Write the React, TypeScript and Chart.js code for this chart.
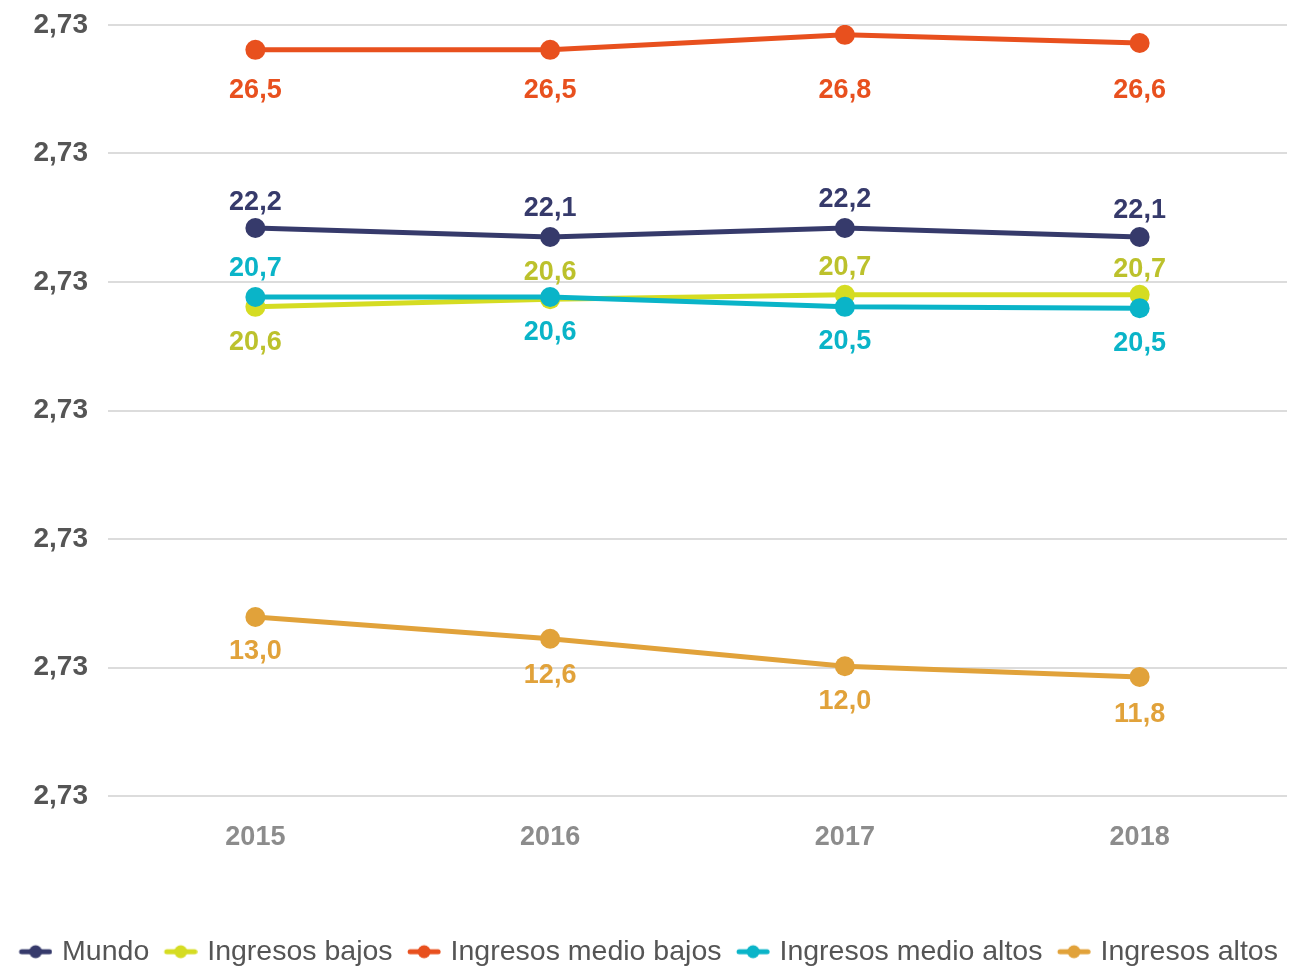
import React, { useEffect, useRef } from 'react';
import { Chart, registerables } from 'chart.js';

Chart.register(...registerables);

// ---- data ----
const years = ['2015', '2016', '2017', '2018'];

const seriesNames = ['Mundo', 'Ingresos bajos', 'Ingresos medio bajos', 'Ingresos medio altos', 'Ingresos altos'];

const mundo = [22.26, 22.05, 22.26, 22.05];
const ingresosBajos = [20.42, 20.6, 20.7, 20.7];
const ingresosMedioBajos = [26.42, 26.42, 26.77, 26.58];
const ingresosMedioAltos = [20.65, 20.65, 20.42, 20.39];
const ingresosAltos = [13.18, 12.67, 12.03, 11.78];

const mundoLabels = ['22,2', '22,1', '22,2', '22,1'];
const ingresosBajosLabels = ['20,6', '20,6', '20,7', '20,7'];
const ingresosMedioBajosLabels = ['26,5', '26,5', '26,8', '26,6'];
const ingresosMedioAltosLabels = ['20,7', '20,6', '20,5', '20,5'];
const ingresosAltosLabels = ['13,0', '12,6', '12,0', '11,8'];

const yMin = 9;
const yMax = 27;
const yStep = 3;
const yTickText = '2,73';

// ---- styles ----
const FONT = '"Liberation Sans", Arial, Helvetica, sans-serif';
const colors = ['#363a6b', '#d5dc22', '#e8501e', '#0ab4c8', '#e1a23a'];
const labelColors = ['#363a6b', '#bcc12c', '#e8501e', '#0ab4c8', '#e1a23a'];
// vertical shift (px) of each value label from its point (negative = above)
const labelShift = [
  [-28, -31, -31, -29],
  [33, -29, -30, -28],
  [38, 38, 53, 45],
  [-31, 33, 32, 33],
  [32, 34, 33, 35],
];
const TEXT_MIDDLE_FIX = 2.5;

const LEGEND_FONT = 28.5;
const LEGEND_BOX_W = 38.75;
const LEGEND_PAD = 5;

function makeLegendIcon(color: string): HTMLCanvasElement {
  const c = document.createElement('canvas');
  const W = 48;
  const H = 16;
  c.width = W;
  c.height = H;
  const ctx = c.getContext('2d')!;
  const a = 14.625;
  ctx.strokeStyle = color;
  ctx.lineWidth = 5;
  ctx.lineCap = 'round';
  ctx.beginPath();
  ctx.moveTo(a + 2.5, H / 2);
  ctx.lineTo(a + 30.5, H / 2);
  ctx.stroke();
  ctx.fillStyle = color;
  ctx.beginPath();
  ctx.arc(a + 16.5, H / 2, 6.5, 0, Math.PI * 2);
  ctx.fill();
  return c;
}

const pointLabelPlugin = {
  id: 'pointLabelPlugin',
  afterDatasetsDraw(chart: any) {
    const ctx = chart.ctx;
    const allLabels = [mundoLabels, ingresosBajosLabels, ingresosMedioBajosLabels, ingresosMedioAltosLabels, ingresosAltosLabels];
    chart.data.datasets.forEach((_ds: any, i: number) => {
      const meta = chart.getDatasetMeta(i);
      if (meta.hidden) return;
      meta.data.forEach((pt: any, j: number) => {
        const y = pt.y + labelShift[i][j] + TEXT_MIDDLE_FIX;
        ctx.save();
        ctx.font = `bold 27px ${FONT}`;
        ctx.fillStyle = labelColors[i];
        ctx.textAlign = 'center';
        ctx.textBaseline = 'middle';
        ctx.fillText(allLabels[i][j], pt.x, y);
        ctx.restore();
      });
    });
  },
};

export default function App() {
  const canvasRef = useRef<HTMLCanvasElement | null>(null);

  useEffect(() => {
    const canvas = canvasRef.current;
    if (!canvas) return;
    const icons = colors.map((c) => makeLegendIcon(c));
    const values = [mundo, ingresosBajos, ingresosMedioBajos, ingresosMedioAltos, ingresosAltos];

    const chart = new Chart(canvas, {
      type: 'line',
      data: {
        labels: years,
        datasets: values.map((v, i) => ({
          label: seriesNames[i],
          data: v,
          borderColor: colors[i],
          backgroundColor: colors[i],
          pointBackgroundColor: colors[i],
          pointBorderWidth: 0,
          pointRadius: 10,
          borderWidth: 5,
          tension: 0,
          fill: false,
          order: i === 1 ? 1 : 0,
        })),
      },
      options: {
        responsive: false,
        animation: false,
        devicePixelRatio: 1,
        layout: { autoPadding: false, padding: { top: 25, right: 4, left: 0, bottom: 0 } },
        plugins: {
          tooltip: { enabled: false },
          legend: {
            position: 'bottom',
            labels: {
              usePointStyle: true,
              pointStyleWidth: LEGEND_BOX_W,
              padding: LEGEND_PAD,
              color: '#555555',
              font: { family: FONT, size: LEGEND_FONT },
              generateLabels: () =>
                seriesNames.map((name, i) => ({
                  text: name,
                  pointStyle: icons[i] as any,
                  fillStyle: colors[i],
                  strokeStyle: colors[i],
                  lineWidth: 0,
                  hidden: false,
                  datasetIndex: i,
                  fontColor: '#555555',
                })),
            },
          },
        },
        scales: {
          x: {
            type: 'category',
            offset: true,
            grid: { display: false, drawTicks: false },
            border: { display: false },
            ticks: {
              color: '#8c8c8c',
              padding: 25,
              font: { family: FONT, size: 27, weight: 'bold' },
            },
            afterFit: (s: any) => {
              s.height = 136.5;
              s.paddingLeft = 0;
              s.paddingRight = 0;
            },
          },
          y: {
            position: 'left',
            min: yMin,
            max: yMax,
            grid: { color: '#dcdcdc', lineWidth: 2, drawTicks: false },
            border: { display: false },
            ticks: {
              stepSize: yStep,
              padding: 20,
              color: '#555555',
              font: { family: FONT, size: 28, weight: 'bold' },
              callback: () => yTickText,
            },
            afterFit: (s: any) => {
              s.width = 108;
              s.paddingTop = 0;
              s.paddingBottom = 0;
            },
          },
        },
      } as any,
      plugins: [pointLabelPlugin],
    });

    return () => chart.destroy();
  }, []);

  return (
    <div style={{ position: 'fixed', left: 0, top: 0, width: 1291, height: 966, overflow: 'hidden', background: '#fff' }}>
      <canvas ref={canvasRef} width={1291} height={976} style={{ display: 'block', width: 1291, height: 976 }} />
    </div>
  );
}
